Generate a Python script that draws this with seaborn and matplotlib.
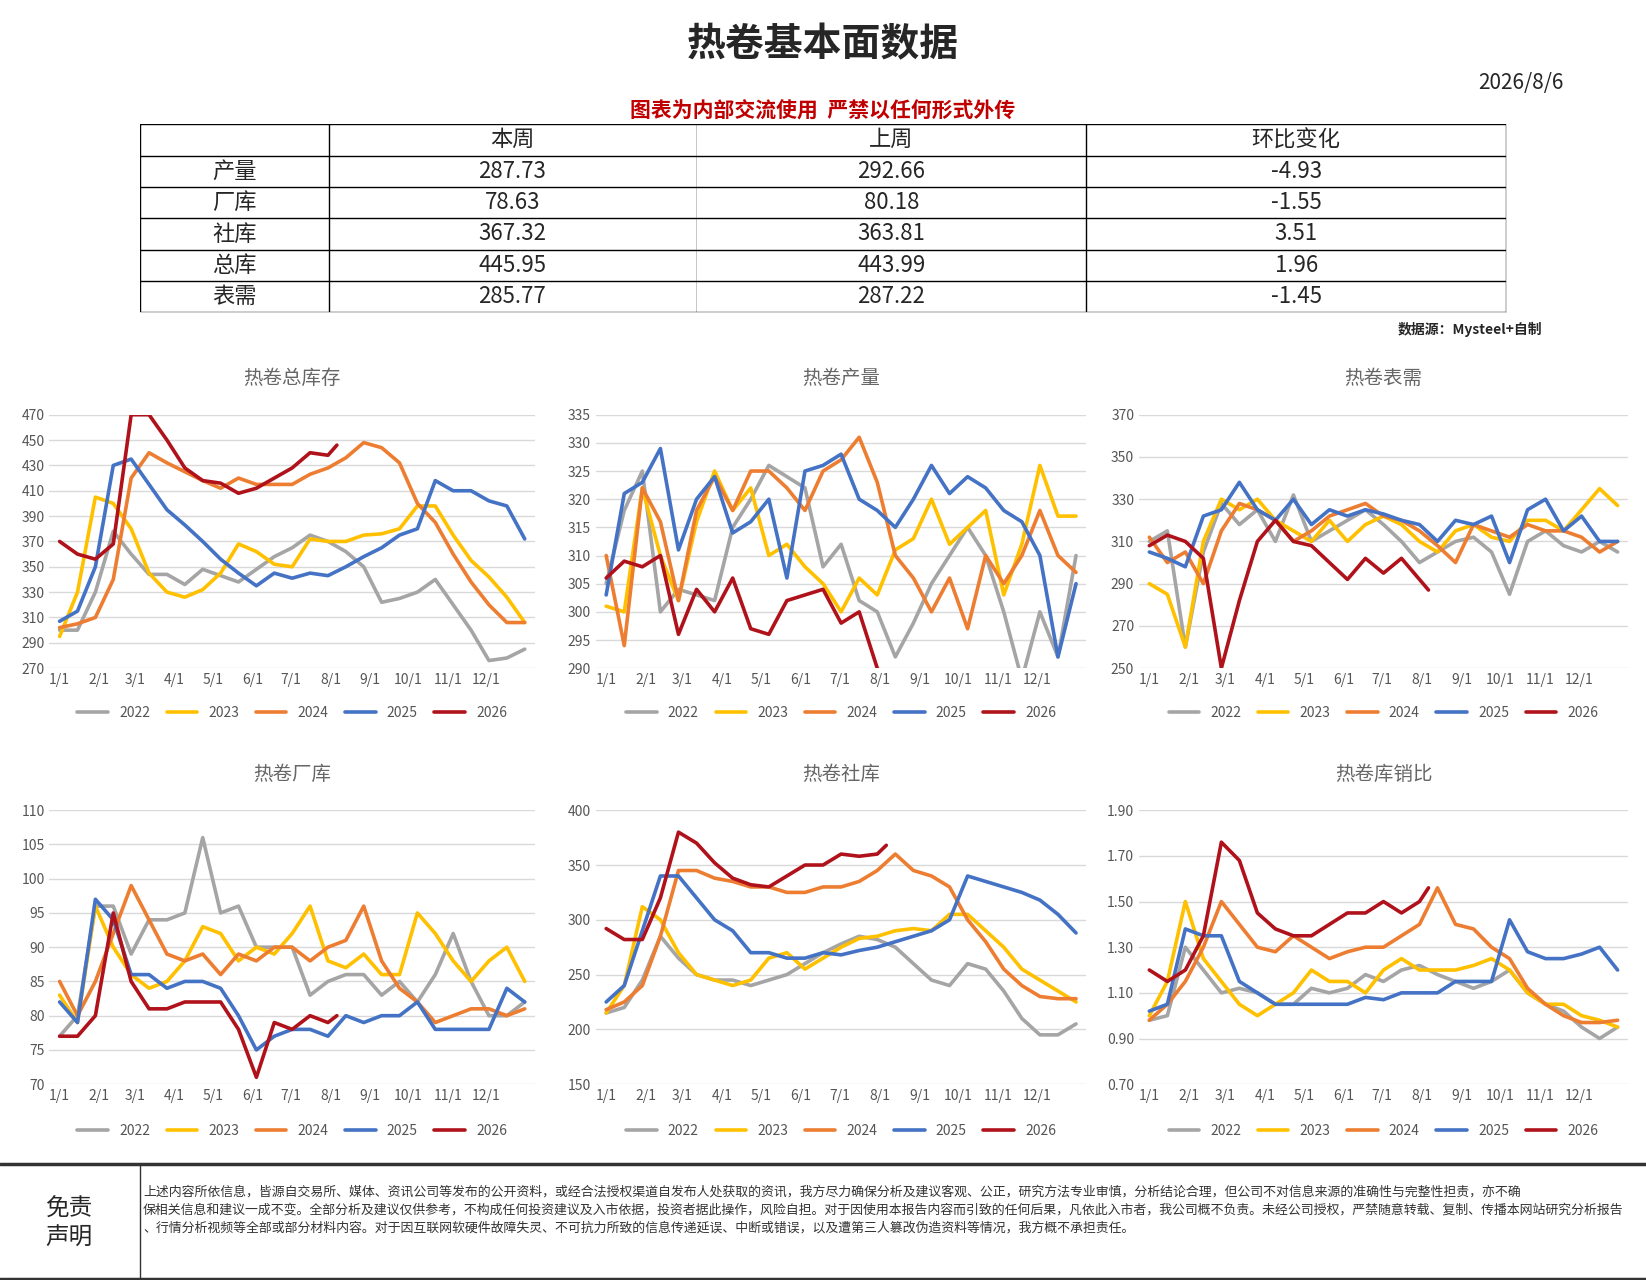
import matplotlib
matplotlib.use("Agg")
import matplotlib.pyplot as plt
import numpy as np
import pandas as pd
import seaborn as sns

sns.set_theme(style="white")
plt.rcParams['font.family'] = ['Noto Sans CJK SC', 'DejaVu Sans']

years = ["2022", "2023", "2024", "2025", "2026"]
colors = ["#a5a5a5", "#ffc000", "#ed7d31", "#4472c4", "#b0121b"]
weeks_full = list(range(0, 53, 2))
weeks_2026 = list(range(0, 31, 2)) + [31]
month_ticks = [0, 31, 59, 90, 120, 151, 181, 212, 243, 273, 304, 334]
month_labels = ["1/1", "2/1", "3/1", "4/1", "5/1", "6/1", "7/1", "8/1", "9/1", "10/1", "11/1", "12/1"]

table_rows = ["产量", "厂库", "社库", "总库", "表需"]
this_week = ["287.73", "78.63", "367.32", "445.95", "285.77"]
last_week = ["292.66", "80.18", "363.81", "443.99", "287.22"]
change = ["-4.93", "-1.55", "3.51", "1.96", "-1.45"]

total_stock = {
    "2022": [300, 300, 330, 378, 360, 344, 344, 336, 348, 343, 338, 348, 358, 365, 375, 370, 362, 350, 322, 325, 330, 340, 320, 300, 276, 278, 285],
    "2023": [295, 330, 405, 400, 380, 345, 330, 326, 332, 345, 368, 362, 352, 350, 372, 370, 370, 375, 376, 380, 398, 398, 375, 355, 342, 326, 306],
    "2024": [302, 305, 310, 340, 420, 440, 432, 425, 418, 412, 420, 415, 415, 415, 423, 428, 436, 448, 444, 432, 400, 385, 360, 338, 320, 306, 306],
    "2025": [307, 315, 350, 430, 435, 415, 395, 383, 370, 356, 345, 335, 345, 341, 345, 343, 350, 358, 365, 375, 380, 418, 410, 410, 402, 398, 372],
    "2026": [370, 360, 356, 368, 470, 470, 450, 428, 418, 416, 408, 412, 420, 428, 440, 438, 446],
}
production = {
    "2022": [305, 318, 325, 300, 304, 303, 302, 315, 320, 326, 324, 322, 308, 312, 302, 300, 292, 298, 305, 310, 315, 310, 300, 288, 300, 292, 310],
    "2023": [301, 300, 322, 310, 302, 316, 325, 318, 322, 310, 312, 308, 305, 300, 306, 303, 311, 313, 320, 312, 315, 318, 303, 312, 326, 317, 317],
    "2024": [310, 294, 322, 316, 302, 318, 324, 318, 325, 325, 322, 318, 325, 327, 331, 323, 310, 306, 300, 306, 297, 310, 305, 310, 318, 310, 307],
    "2025": [303, 321, 323, 329, 311, 320, 324, 314, 316, 320, 306, 325, 326, 328, 320, 318, 315, 320, 326, 321, 324, 322, 318, 316, 310, 292, 305],
    "2026": [306, 309, 308, 310, 296, 304, 300, 306, 297, 296, 302, 303, 304, 298, 300, 290, 288],
}
demand = {
    "2022": [310, 315, 260, 305, 328, 318, 325, 310, 332, 310, 315, 320, 325, 318, 310, 300, 305, 310, 312, 305, 285, 310, 315, 308, 305, 310, 305],
    "2023": [290, 285, 260, 310, 330, 325, 330, 320, 315, 310, 320, 310, 318, 322, 318, 310, 305, 315, 318, 312, 310, 320, 320, 315, 325, 335, 327],
    "2024": [312, 300, 305, 290, 315, 328, 325, 320, 310, 315, 322, 325, 328, 322, 320, 315, 308, 300, 318, 315, 312, 318, 315, 315, 312, 305, 310],
    "2025": [305, 302, 298, 322, 325, 338, 325, 320, 330, 318, 325, 322, 325, 323, 320, 318, 310, 320, 318, 322, 300, 325, 330, 315, 322, 310, 310],
    "2026": [308, 313, 310, 302, 250, 282, 310, 320, 310, 308, 300, 292, 302, 295, 302, 292, 287],
}
factory_stock = {
    "2022": [77, 80, 96, 96, 89, 94, 94, 95, 106, 95, 96, 90, 90, 90, 83, 85, 86, 86, 83, 85, 82, 86, 92, 85, 80, 80, 82],
    "2023": [83, 79, 96, 90, 86, 84, 85, 88, 93, 92, 88, 90, 89, 92, 96, 88, 87, 89, 86, 86, 95, 92, 88, 85, 88, 90, 85],
    "2024": [85, 80, 85, 92, 99, 94, 89, 88, 89, 86, 89, 88, 90, 90, 88, 90, 91, 96, 88, 84, 82, 79, 80, 81, 81, 80, 81],
    "2025": [82, 79, 97, 94, 86, 86, 84, 85, 85, 84, 80, 75, 77, 78, 78, 77, 80, 79, 80, 80, 82, 78, 78, 78, 78, 84, 82],
    "2026": [77, 77, 80, 95, 85, 81, 81, 82, 82, 82, 78, 71, 79, 78, 80, 79, 80],
}
social_stock = {
    "2022": [215, 220, 245, 285, 265, 250, 245, 245, 240, 245, 250, 260, 270, 278, 285, 282, 275, 260, 245, 240, 260, 255, 235, 210, 195, 195, 205],
    "2023": [215, 240, 312, 300, 270, 250, 245, 240, 245, 265, 270, 255, 265, 275, 283, 285, 290, 292, 290, 305, 305, 290, 275, 255, 245, 235, 225],
    "2024": [218, 225, 240, 285, 345, 345, 338, 335, 330, 330, 325, 325, 330, 330, 335, 345, 360, 345, 340, 330, 300, 280, 255, 240, 230, 228, 228],
    "2025": [225, 240, 290, 340, 340, 320, 300, 290, 270, 270, 265, 265, 270, 268, 272, 275, 280, 285, 290, 300, 340, 335, 330, 325, 318, 305, 288],
    "2026": [292, 282, 282, 320, 380, 370, 352, 338, 332, 330, 340, 350, 350, 360, 358, 360, 368],
}
stock_sales = {
    "2022": [0.98, 1.00, 1.30, 1.20, 1.10, 1.12, 1.10, 1.05, 1.05, 1.12, 1.10, 1.12, 1.18, 1.15, 1.20, 1.22, 1.18, 1.15, 1.12, 1.15, 1.20, 1.10, 1.05, 1.02, 0.95, 0.90, 0.95],
    "2023": [1.00, 1.15, 1.50, 1.25, 1.15, 1.05, 1.00, 1.05, 1.10, 1.20, 1.15, 1.15, 1.10, 1.20, 1.25, 1.20, 1.20, 1.20, 1.22, 1.25, 1.20, 1.10, 1.05, 1.05, 1.00, 0.98, 0.95],
    "2024": [0.98, 1.05, 1.15, 1.30, 1.50, 1.40, 1.30, 1.28, 1.35, 1.30, 1.25, 1.28, 1.30, 1.30, 1.35, 1.40, 1.56, 1.40, 1.38, 1.30, 1.25, 1.12, 1.05, 1.00, 0.97, 0.97, 0.98],
    "2025": [1.02, 1.05, 1.38, 1.35, 1.35, 1.15, 1.10, 1.05, 1.05, 1.05, 1.05, 1.05, 1.08, 1.07, 1.10, 1.10, 1.10, 1.15, 1.15, 1.15, 1.42, 1.28, 1.25, 1.25, 1.27, 1.30, 1.20],
    "2026": [1.20, 1.15, 1.20, 1.35, 1.76, 1.68, 1.45, 1.38, 1.35, 1.35, 1.40, 1.45, 1.45, 1.50, 1.45, 1.50, 1.56],
}

charts = [
    ("热卷总库存", total_stock, (270, 470), np.arange(270, 471, 20), "{:.0f}"),
    ("热卷产量", production, (290, 335), np.arange(290, 336, 5), "{:.0f}"),
    ("热卷表需", demand, (250, 370), np.arange(250, 371, 20), "{:.0f}"),
    ("热卷厂库", factory_stock, (70, 110), np.arange(70, 111, 5), "{:.0f}"),
    ("热卷社库", social_stock, (150, 400), np.arange(150, 401, 50), "{:.0f}"),
    ("热卷库销比", stock_sales, (0.70, 1.90), np.arange(0.70, 1.91, 0.20), "{:.2f}"),
]
positions = [
    [0.030, 0.478, 0.295, 0.198], [0.362, 0.478, 0.298, 0.198], [0.692, 0.478, 0.297, 0.198],
    [0.030, 0.153, 0.295, 0.214], [0.362, 0.153, 0.298, 0.214], [0.692, 0.153, 0.297, 0.214],
]

fig = plt.figure(figsize=(16.46, 12.8), dpi=100)
fig.text(0.5, 0.965, "热卷基本面数据", ha="center", va="center", fontsize=28, fontweight="bold")
fig.text(0.95, 0.935, "2026/8/6", ha="right", va="center", fontsize=15)
fig.text(0.5, 0.913, "图表为内部交流使用  严禁以任何形式外传", ha="center", va="center",
         fontsize=15, color="#c00000", fontweight="bold")

tax = fig.add_axes([0.085, 0.756, 0.83, 0.147])
tax.axis("off")
cells = [[r, a, b, c] for r, a, b, c in zip(table_rows, this_week, last_week, change)]
tbl = tax.table(cellText=cells, colLabels=["", "本周", "上周", "环比变化"], bbox=[0, 0, 1, 1],
                colWidths=[180, 350, 372, 400], cellLoc="center")
tbl.auto_set_font_size(False)
for (r, c), cell in tbl.get_celld().items():
    cell.set_fontsize(16)
    cell.set_linewidth(0.5)
    cell.set_edgecolor("#bbbbbb")
    cell.get_text().set_fontfamily(['Noto Sans CJK SC', 'DejaVu Sans'])
# outline and row lines
for y in np.linspace(0, 1, 7):
    tax.axhline(y, color="black", lw=1)
for x in [0, 180 / 1302, (180 + 350 + 372) / 1302, 1]:
    tax.axvline(x, color="black", lw=1)
fig.text(0.937, 0.743, "数据源：Mysteel+自制", ha="right", va="center", fontsize=10, fontweight="bold")

for (title, series, ylim, yticks, fmt), pos in zip(charts, positions):
    ax = fig.add_axes(pos)
    frames = []
    for y in years:
        wk = weeks_2026 if y == "2026" else weeks_full
        frames.append(pd.DataFrame({"day": np.array(wk) * 7, "value": series[y], "year": y}))
    df = pd.concat(frames)
    sns.lineplot(data=df, x="day", y="value", hue="year", palette=colors, linewidth=2.6, ax=ax)
    ax.set_xlim(-8, 372)
    ax.set_ylim(*ylim)
    ax.set_yticks(yticks)
    ax.set_yticklabels([fmt.format(v) for v in yticks])
    ax.set_xticks(month_ticks)
    ax.set_xticklabels(month_labels)
    ax.tick_params(labelsize=10, colors="#555555", length=0)
    ax.grid(axis="y", color="#d9d9d9", lw=1)
    for s in ax.spines.values():
        s.set_visible(False)
    ax.set_xlabel("")
    ax.set_ylabel("")
    ax.set_title(title, fontsize=14, color="#666666", pad=22)
    ax.legend(loc="upper center", bbox_to_anchor=(0.5, -0.1), ncol=5, frameon=False, fontsize=10,
              handlelength=2.2, columnspacing=1.2, labelcolor="#555555")

fig.add_artist(plt.Line2D([0, 1], [0.091, 0.091], color="#333333", lw=2.5, transform=fig.transFigure))
fig.add_artist(plt.Line2D([0, 1], [0.001, 0.001], color="#333333", lw=2.5, transform=fig.transFigure))
fig.add_artist(plt.Line2D([0.085, 0.085], [0.0, 0.091], color="#333333", lw=1, transform=fig.transFigure))
fig.text(0.042, 0.044, "免责\n声明", ha="center", va="center", fontsize=17, linespacing=1.3)
disclaimer = ("上述内容所依信息，皆源自交易所、媒体、资讯公司等发布的公开资料，或经合法授权渠道自发布人处获取的资讯，我方尽力确保分析及建议客观、公正，研究方法专业审慎，分析结论合理，但公司不对信息来源的准确性与完整性担责，亦不确\n"
              "保相关信息和建议一成不变。全部分析及建议仅供参考，不构成任何投资建议及入市依据，投资者据此操作，风险自担。对于因使用本报告内容而引致的任何后果，凡依此入市者，我公司概不负责。未经公司授权，严禁随意转载、复制、传播本网站研究分析报告\n"
              "、行情分析视频等全部或部分材料内容。对于因互联网软硬件故障失灵、不可抗力所致的信息传递延误、中断或错误，以及遭第三人篡改伪造资料等情况，我方概不承担责任。")
fig.text(0.087, 0.055, disclaimer, ha="left", va="center", fontsize=9.3, linespacing=1.5, color="#333333")

fig.savefig("out.png", dpi=100)
